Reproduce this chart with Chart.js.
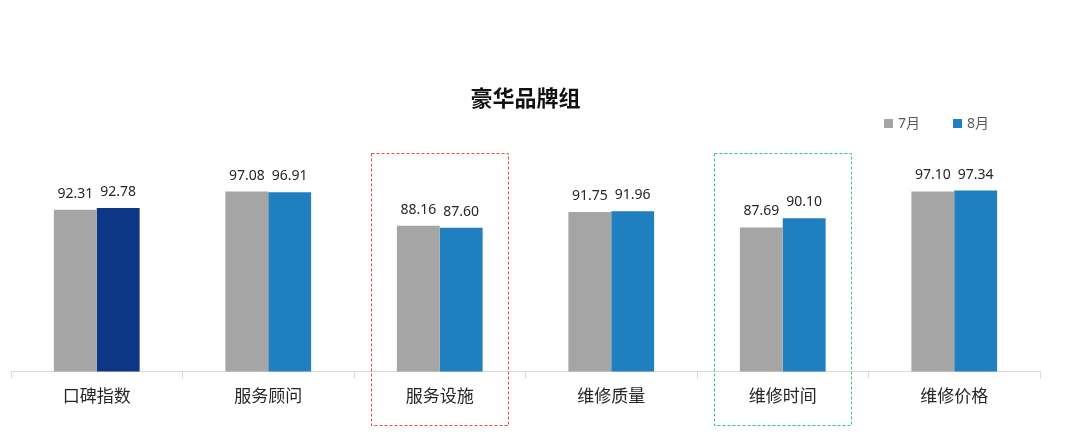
<!DOCTYPE html>
<html lang="zh">
<head>
  <meta charset="UTF-8">
  <title>豪华品牌组</title>
  <script src="https://cdn.jsdelivr.net/npm/chart.js"></script>
  <style>
    body { margin: 0; background: #fff; }
    #wrap { width: 1080px; height: 443px; }
  </style>
</head>
<body>
  <div id="wrap"><canvas id="bar-chart" width="1080" height="443"></canvas></div>

  <script>
    // data
    const categories = ['口碑指数', '服务顾问', '服务设施', '维修质量', '维修时间', '维修价格'];
    const seriesNames = ['7月', '8月'];
    const july = [92.31, 97.08, 88.16, 91.75, 87.69, 97.10];
    const august = [92.78, 96.91, 87.60, 91.96, 90.10, 97.34];
    // categories framed by a dashed box
    const highlights = [
      { index: 2, color: '#e8454f' },
      { index: 4, color: '#2ecc71' }
    ];

    const FONT = "'Microsoft YaHei', 'Noto Sans CJK SC', sans-serif";
    const NUM_FONT = "'Noto Sans', 'Noto Sans CJK SC', sans-serif";
    const gray = '#a5a5a5';
    const blue = '#1f7fbf';
    const navy = '#0d3784';

    // first 8月 bar is navy in the original
    const augustColors = august.map((v, i) => i === 0 ? navy : blue);

    const valueLabels = {
      id: 'valueLabels',
      afterDatasetsDraw(chart) {
        const ctx = chart.ctx;
        ctx.save();
        ctx.font = '14px ' + NUM_FONT;
        ctx.fillStyle = '#262626';
        ctx.textAlign = 'center';
        ctx.textBaseline = 'middle';
        chart.data.datasets.forEach((ds, di) => {
          chart.getDatasetMeta(di).data.forEach((bar, i) => {
            ctx.fillText(ds.data[i].toFixed(2), bar.x, bar.y - 16);
          });
        });
        ctx.restore();
      }
    };

    const dashedBoxes = {
      id: 'dashedBoxes',
      afterDraw(chart) {
        const ctx = chart.ctx;
        const x = chart.scales.x;
        const bottom = chart.chartArea.bottom;
        ctx.save();
        ctx.lineWidth = 1;
        ctx.setLineDash([3, 2]);
        highlights.forEach(h => {
          const cx = x.getPixelForValue(h.index);
          ctx.strokeStyle = h.color;
          ctx.strokeRect(Math.round(cx - 69) + 0.5, Math.round(bottom - 219) + 0.5, 137, 272);
        });
        ctx.restore();
      }
    };

    const topLegend = {
      id: 'topLegend',
      afterDraw(chart) {
        const ctx = chart.ctx;
        const colors = [gray, blue];
        const startX = [884, 953];
        ctx.save();
        ctx.font = '14px ' + NUM_FONT;
        ctx.textBaseline = 'middle';
        seriesNames.forEach((name, i) => {
          ctx.fillStyle = colors[i];
          ctx.fillRect(startX[i], 119, 9, 9);
          ctx.fillStyle = '#595959';
          ctx.fillText(name, startX[i] + 14, 124);
        });
        ctx.restore();
      }
    };

    new Chart(document.getElementById('bar-chart'), {
      type: 'bar',
      data: {
        labels: categories,
        datasets: [
          { label: seriesNames[0], data: july, backgroundColor: gray },
          { label: seriesNames[1], data: august, backgroundColor: augustColors }
        ]
      },
      options: {
        responsive: false,
        animation: false,
        layout: { padding: { top: 84, left: 11, right: 40, bottom: 30 } },
        datasets: { bar: { barPercentage: 1, categoryPercentage: 0.5 } },
        plugins: {
          title: {
            display: true,
            text: '豪华品牌组',
            color: '#111',
            font: { family: FONT, size: 22, weight: 'bold' },
            padding: { top: 0, bottom: 70 }
          },
          legend: { display: false },
          tooltip: { enabled: false }
        },
        scales: {
          x: {
            grid: { drawOnChartArea: false, tickLength: 7, color: '#d9d9d9', offset: true },
            border: { color: '#d9d9d9' },
            ticks: { color: '#262626', padding: 7, font: { family: FONT, size: 17 } }
          },
          y: { display: false, min: 50, max: 100 }
        }
      },
      plugins: [valueLabels, dashedBoxes, topLegend]
    });
  </script>
</body>
</html>
